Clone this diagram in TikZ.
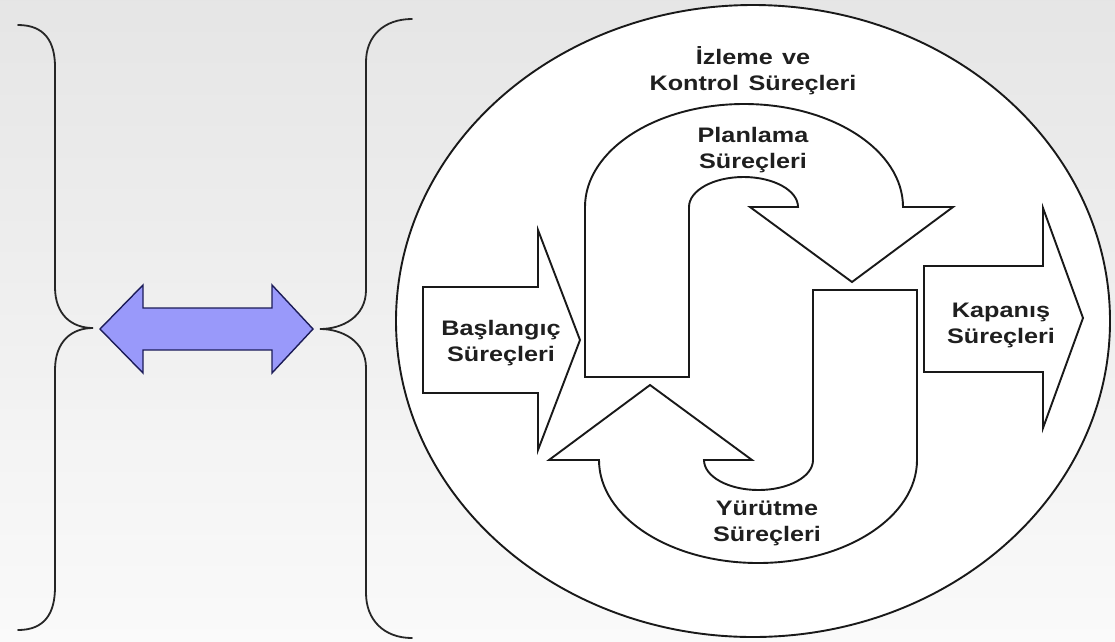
\documentclass[tikz,border=0pt]{standalone}
\usepackage{fontspec}
\setmainfont{Liberation Sans}[FakeStretch=1.2]
\begin{document}
\begin{tikzpicture}[x=1pt,y=-1pt,
  outline/.style={draw=black!90, line width=1.9pt, fill=white, line join=miter},
  brace/.style={draw=black!85, line width=1.8pt, line cap=round},
  lbl/.style={font=\fontsize{21}{26}\selectfont\bfseries, align=center, inner sep=0pt, text=black!88},
  twoway/.style={draw={rgb,255:red,28;green,28;blue,88}, fill={rgb,255:red,153;green,153;blue,250}, line width=1.4pt, line join=miter},
]
% page background
\shade[top color=black!10, bottom color=black!2] (0,0) rectangle (1115,641);
\useasboundingbox (0,0) rectangle (1115,641);

% left brace
\draw[brace] (18,25) .. controls (45,25) and (55,42) .. (55,67) -- (55,287)
  .. controls (55,315) and (72,328) .. (93,328)
  .. controls (72,328) and (55,341) .. (55,370) -- (55,587)
  .. controls (55,613) and (45,630) .. (18,630);

% right brace
\draw[brace] (412,19) .. controls (384,19) and (366,36) .. (366,62) -- (366,290)
  .. controls (366,317) and (342,329) .. (320,329)
  .. controls (342,329) and (366,341) .. (366,368) -- (366,593)
  .. controls (366,620) and (384,638) .. (412,638);

% two-way arrow between the braces
\draw[twoway] (100,329) -- (143,285) -- (143,308) -- (272,308) -- (272,285)
  -- (313,329) -- (272,373) -- (272,350) -- (143,350) -- (143,373) -- cycle;

% monitoring and control ellipse
\draw[outline] (753,321) ellipse [x radius=357, y radius=316];

% initiating and closing arrows
\draw[outline] (423,287) -- (538,287) -- (538,230) -- (580,340) -- (538,450)
  -- (538,393) -- (423,393) -- cycle;
\draw[outline] (924,266) -- (1043,266) -- (1043,208) -- (1083,318) -- (1043,428)
  -- (1043,372) -- (924,372) -- cycle;

% planning U-turn arrow
\draw[outline] (585,377) -- (689,377) -- (689,207)
  arc[start angle=180, end angle=360, x radius=54.5, y radius=30]
  -- (750,207) -- (852,282) -- (953,207) -- (903,207)
  arc[start angle=0, end angle=-180, x radius=159, y radius=103] -- cycle;

% executing U-turn arrow (point mirror of the planning arrow)
\begin{scope}[rotate around={180:(751,333.5)}]
\draw[outline] (585,377) -- (689,377) -- (689,207)
  arc[start angle=180, end angle=360, x radius=54.5, y radius=30]
  -- (750,207) -- (852,282) -- (953,207) -- (903,207)
  arc[start angle=0, end angle=-180, x radius=159, y radius=103] -- cycle;
\end{scope}

% labels
\node[lbl] (izleme) at (753,71) {İzleme\hspace{0.45em}ve\\Kontrol\hspace{0.45em}Süreçleri};
\node[lbl] (planlama) at (753,150) {Planlama\\Süreçleri};
\node[lbl] (yurutme) at (767,523) {Yürütme\\Süreçleri};
\node[lbl] (baslangic) at (501,343) {Başlangıç\\Süreçleri};
\node[lbl] (kapanis) at (1001,325) {Kapanış\\Süreçleri};
\end{tikzpicture}
\end{document}
